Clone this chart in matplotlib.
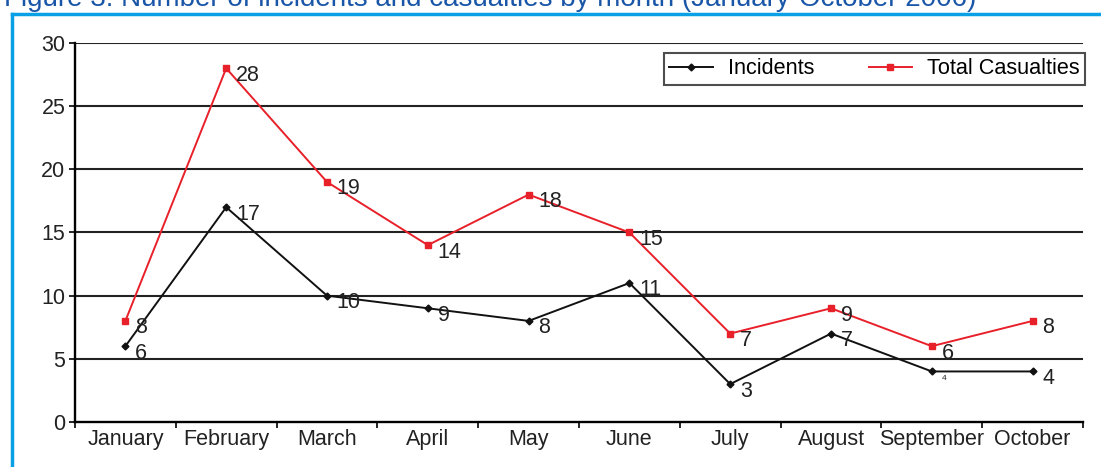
import numpy as np
import matplotlib.pyplot as plt
from matplotlib.lines import Line2D

months = ["January", "February", "March", "April", "May", "June",
          "July", "August", "September", "October"]
incidents = [6, 17, 10, 9, 8, 11, 3, 7, 4, 4]
casualties = [8, 28, 19, 14, 18, 15, 7, 9, 6, 8]

plt.rcParams['font.family'] = ['Liberation Sans', 'DejaVu Sans']

fig = plt.figure(figsize=(11.01, 4.67), dpi=100)
ax = fig.add_axes([0.0681, 0.0964, 0.9156, 0.8115])

x = np.arange(len(months))
red = '#e8202a'
ink = '#222222'

for v in range(5, 31, 5):
    ax.axhline(v, color=ink, lw=1.5, zorder=1)

ax.plot(x, incidents, color='#111111', lw=1.4, marker='D', ms=3.5, label='Incidents', zorder=3)
ax.plot(x, casualties, color=red, lw=1.4, marker='s', ms=5, label='Total Casualties', zorder=3)

# data labels, the september incidents one is tiny in the original
for i, v in enumerate(incidents):
    fs = 6 if i == 8 else 15.5
    ax.annotate(str(v), (i, v), xytext=(7, -5), textcoords='offset points',
                ha='left', va='center', fontsize=fs, color=ink, zorder=4)
for i, v in enumerate(casualties):
    ax.annotate(str(v), (i, v), xytext=(7, -5), textcoords='offset points',
                ha='left', va='center', fontsize=15.5, color=ink, zorder=4)

ax.set_xlim(-0.5, len(months) - 0.5)
ax.set_ylim(0, 30)
ax.set_yticks(range(0, 31, 5))
ax.set_xticks(x)
ax.set_xticklabels(months, fontsize=15.5, color=ink)
ax.set_xticks(np.arange(-0.5, len(months)), minor=True)
ax.tick_params(axis='x', which='major', length=0, pad=5)
ax.tick_params(axis='x', which='minor', length=4, width=1.2)
ax.tick_params(axis='y', length=4, width=1.2, labelsize=15.5, labelcolor=ink, pad=3)

for s in ['top', 'right']:
    ax.spines[s].set_visible(False)
ax.spines['left'].set_linewidth(1.7)
ax.spines['bottom'].set_linewidth(1.7)

leg = ax.legend(loc='upper right', bbox_to_anchor=(1.002, 0.974), borderaxespad=0, ncol=2,
                fontsize=15.6, frameon=True, fancybox=False, edgecolor=ink, handlelength=2.0,
                columnspacing=2.5, borderpad=0.25, handletextpad=0.7)
leg.get_frame().set_linewidth(1.5)

# blue frame and cut-off title
blue = '#0aa0e6'
fig.add_artist(Line2D([12 / 1101, 1], [1 - 14 / 467, 1 - 14 / 467], color=blue, lw=2.5))
fig.add_artist(Line2D([12 / 1101, 12 / 1101], [1 - 14 / 467, 0], color=blue, lw=2.5))
fig.text(0.004, 1 - 6 / 467, "Figure 3: Number of incidents and casualties by month (January-October 2006)",
         fontsize=20, color='#1a56a8', ha='left', va='baseline')

fig.savefig('out.png', dpi=100)
